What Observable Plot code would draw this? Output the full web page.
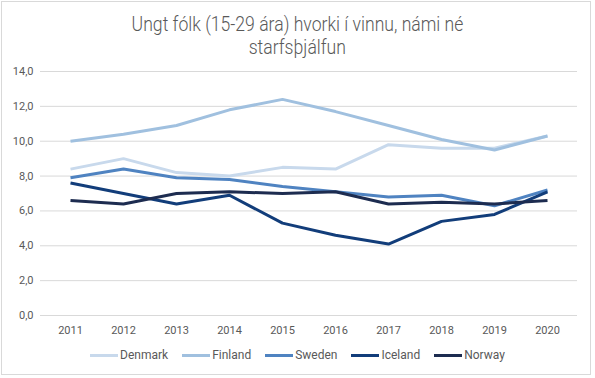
<!DOCTYPE html>
<html>
<head>
<meta charset="utf-8">
<script src="https://cdn.jsdelivr.net/npm/d3@7"></script>
<script src="https://cdn.jsdelivr.net/npm/@observablehq/plot@0.6"></script>
<style>
  html, body { margin: 0; padding: 0; background: #fff; }
  body { position: relative; width: 595px; height: 378px; overflow: hidden; font-family: Roboto, sans-serif; }
  #frame { position: absolute; left: 1px; top: 1px; width: 588px; height: 372px; border: 1px solid #d9d9d9; }
  #title { position: absolute; left: 0; top: 13px; width: 595px; text-align: center; font-family: Roboto, sans-serif; font-weight: 300; font-size: 20px; line-height: 23px; color: #595959; }
  #title span { display: inline-block; transform: scaleX(0.88); transform-origin: center; white-space: nowrap; }
  #chart { position: absolute; left: 0; top: 58px; }
  #legend { position: absolute; left: 0; top: 348px; width: 595px; display: flex; justify-content: center; gap: 14px; font-family: Roboto, sans-serif; font-size: 12px; color: #595959; }
  .item { display: flex; align-items: center; }
  .sw { display: inline-block; width: 28px; height: 3px; margin-right: 2px; }
</style>
</head>
<body>
<div id="frame"></div>
<div id="title"><span>Ungt fólk (15-29 ára) hvorki í vinnu, námi né</span><br><span>starfsþjálfun</span></div>
<div id="chart"></div>
<div id="legend"></div>
<script>
const years = [2011, 2012, 2013, 2014, 2015, 2016, 2017, 2018, 2019, 2020];
const countries = ["Denmark", "Finland", "Sweden", "Iceland", "Norway"];
const colors = ["#c8d9ec", "#a0c0df", "#4f83c1", "#123d7a", "#1d2c50"];
const denmark = [8.4, 9.0, 8.2, 8.0, 8.5, 8.4, 9.8, 9.6, 9.6, 10.3];
const finland = [10.0, 10.4, 10.9, 11.8, 12.4, 11.7, 10.9, 10.1, 9.5, 10.3];
const sweden  = [7.9, 8.4, 7.9, 7.8, 7.4, 7.1, 6.8, 6.9, 6.3, 7.2];
const iceland = [7.6, 7.0, 6.4, 6.9, 5.3, 4.6, 4.1, 5.4, 5.8, 7.1];
const norway  = [6.6, 6.4, 7.0, 7.1, 7.0, 7.1, 6.4, 6.5, 6.4, 6.6];
const yTicks = [0, 2, 4, 6, 8, 10, 12, 14];

const series = [denmark, finland, sweden, iceland, norway];
const data = [];
countries.forEach((c, i) => years.forEach((y, j) => data.push({country: c, year: String(y), value: series[i][j]})));

const fmt = d => d.toFixed(1).replace(".", ",");

const plot = Plot.plot({
  width: 595,
  height: 282,
  marginTop: 13,
  marginBottom: 25,
  marginLeft: 40,
  marginRight: 18,
  style: { fontFamily: "Roboto, sans-serif", fontSize: "11px", color: "#595959", background: "transparent" },
  x: { type: "point", domain: years.map(String), padding: 0.53, label: null },
  y: { domain: [0, 14], label: null },
  color: { domain: countries, range: colors },
  marks: [
    Plot.gridY(yTicks, { stroke: "#d9d9d9", strokeOpacity: 1 }),
    Plot.axisY({ ticks: yTicks, tickSize: 0, tickPadding: 7, tickFormat: fmt, label: null }),
    Plot.axisX({ tickSize: 0, tickPadding: 11, label: null }),
    Plot.line(data, { x: "year", y: "value", z: "country", stroke: "country", strokeWidth: 3, strokeLinejoin: "round", strokeLinecap: "butt" })
  ]
});
document.getElementById("chart").appendChild(plot);

const legend = document.getElementById("legend");
countries.forEach((c, i) => {
  const item = document.createElement("div");
  item.className = "item";
  const sw = document.createElement("span");
  sw.className = "sw";
  sw.style.background = colors[i];
  item.appendChild(sw);
  item.appendChild(document.createTextNode(c));
  legend.appendChild(item);
});
</script>
</body>
</html>
